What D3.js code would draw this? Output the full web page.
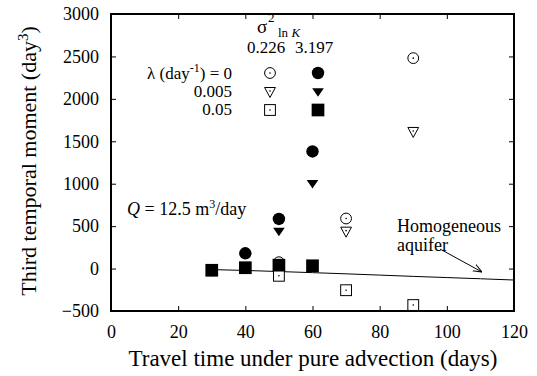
<!DOCTYPE html>
<html><head><meta charset="utf-8">
<script src="https://cdn.jsdelivr.net/npm/d3@7"></script>
<style>body{margin:0;background:#fff}svg{display:block}</style>
</head><body>
<svg id="c" width="537" height="376" font-family="Liberation Serif, DejaVu Serif, serif"></svg>
<script>
// ---- data ----
const xTicks = [0,20,40,60,80,100,120];
const yTicks = [-500,0,500,1000,1500,2000,2500,3000];
// lambda = 0, sigma2 = 0.226 (open circles)
const openCircle = [[50,75],[70,590],[90,2480]];
// lambda = 0, sigma2 = 3.197 (filled circles)
const filledCircle = [[40,180],[50,585],[60,1380]];
// lambda = 0.005, sigma2 = 0.226 (open triangles)
const openTriangle = [[70,435],[90,1610]];
// lambda = 0.005, sigma2 = 3.197 (filled triangles)
const filledTriangle = [[30,-40],[50,435],[60,1000]];
// lambda = 0.05, sigma2 = 0.226 (open squares)
const openSquare = [[50,-85],[70,-255],[90,-430]];
// lambda = 0.05, sigma2 = 3.197 (filled squares)
const filledSquare = [[30,-20],[40,10],[50,40],[60,33]];
// homogeneous aquifer curve
const homX = [30,40,50,60,70,80,90,100,110,120];
const homY = [-12,-22,-35,-48,-62,-77,-92,-106,-120,-135];
const legendLambda = ["0","0.005","0.05"];
const legendSigma = ["0.226","3.197"];

const FONT = "Liberation Serif, DejaVu Serif, serif";
const svg = d3.select("#c");
const L=111,R=514,T=14,B=311;
const x = d3.scaleLinear().domain([0,120]).range([L,R]);
const y = d3.scaleLinear().domain([-500,3000]).range([B,T]);

// axes (ticks inward)
const tl=5;
svg.append("g").attr("transform",`translate(0,${B})`).call(d3.axisBottom(x).tickValues(xTicks).tickSize(-tl).tickPadding(14).tickFormat(d3.format("d")))
  .call(g=>{g.select(".domain").remove();g.selectAll("text").attr("font-size",18).attr("dy","0.71em");});
svg.append("g").attr("transform",`translate(0,${T})`).call(d3.axisTop(x).tickValues(xTicks).tickSize(-tl).tickFormat(""))
  .call(g=>g.select(".domain").remove());
svg.append("g").attr("transform",`translate(${L},0)`).call(d3.axisLeft(y).tickValues(yTicks).tickSize(-tl).tickPadding(12).tickFormat(d3.format("d")))
  .call(g=>{g.select(".domain").remove();g.selectAll("text").attr("font-size",18);});
svg.append("g").attr("transform",`translate(${R},0)`).call(d3.axisRight(y).tickValues(yTicks).tickSize(-tl).tickFormat(""))
  .call(g=>g.select(".domain").remove());
svg.selectAll("g").attr("font-family",FONT);
svg.selectAll(".tick line").attr("stroke","#000").attr("stroke-width",1);
svg.selectAll(".tick text").attr("fill","#000");
svg.append("rect").attr("x",L).attr("y",T).attr("width",R-L).attr("height",B-T)
  .attr("fill","none").attr("stroke","#000").attr("stroke-width",2);

// homogeneous line
svg.append("path").datum(homX.map((v,i)=>[v,homY[i]]))
  .attr("d",d3.line().x(d=>x(d[0])).y(d=>y(d[1])))
  .attr("fill","none").attr("stroke","#000").attr("stroke-width",1);

// marker drawers
function circ(g,cx,cy,filled){
  g.append("circle").attr("cx",cx).attr("cy",cy).attr("r",filled?6.2:5.4)
   .attr("fill",filled?"#000":"#fff").attr("stroke","#000").attr("stroke-width",filled?0:1);
  if(!filled) g.append("circle").attr("cx",cx).attr("cy",cy).attr("r",0.8).attr("fill","#000");
}
function tri(g,cx,cy,filled){
  const w=filled?5.8:5.4,h=filled?8.5:10;
  g.append("path").attr("d",`M${cx-w},${cy-h*0.45}L${cx+w},${cy-h*0.45}L${cx},${cy+h*0.55}Z`)
   .attr("fill",filled?"#000":"#fff").attr("stroke","#000").attr("stroke-width",filled?0:1);
  if(!filled) g.append("circle").attr("cx",cx).attr("cy",cy-1).attr("r",0.8).attr("fill","#000");
}
function sq(g,cx,cy,filled){
  const s=filled?12.7:10.8;
  g.append("rect").attr("x",cx-s/2).attr("y",cy-s/2).attr("width",s).attr("height",s)
   .attr("fill",filled?"#000":"#fff").attr("stroke","#000").attr("stroke-width",filled?0:1);
  if(!filled) g.append("circle").attr("cx",cx).attr("cy",cy).attr("r",0.8).attr("fill","#000");
}
const gm = svg.append("g");
openCircle.forEach(d=>circ(gm,x(d[0]),y(d[1]),false));
openTriangle.forEach(d=>tri(gm,x(d[0]),y(d[1]),false));
openSquare.forEach(d=>sq(gm,x(d[0]),y(d[1]),false));
filledCircle.forEach(d=>circ(gm,x(d[0]),y(d[1]),true));
filledTriangle.forEach(d=>tri(gm,x(d[0]),y(d[1]),true));
filledSquare.forEach(d=>sq(gm,x(d[0]),y(d[1]),true));

// legend
const lg = svg.append("g").attr("font-family",FONT);
const colX=[270,318], rowY=[73,92,110];
const sig = lg.append("text").attr("x",257).attr("y",33).attr("font-size",19);
sig.append("tspan").text("σ");
sig.append("tspan").attr("x",268).attr("y",22).attr("font-size",13).text("2");
sig.append("tspan").attr("x",278).attr("y",37).attr("font-size",13).text("ln ");
sig.append("tspan").attr("font-size",13).attr("font-style","italic").text("K");
const sigX=[266,314];
legendSigma.forEach((s,i)=>lg.append("text").attr("x",sigX[i]).attr("y",53).attr("text-anchor","middle").attr("font-size",17).text(s));
const l0 = lg.append("text").attr("x",232).attr("y",rowY[0]+5.5).attr("text-anchor","end").attr("font-size",17);
l0.append("tspan").text("λ (day");
l0.append("tspan").attr("font-size",12).attr("dy",-7).text("-1");
l0.append("tspan").attr("dy",7).text(") = "+legendLambda[0]);
legendLambda.slice(1).forEach((s,i)=>lg.append("text").attr("x",232).attr("y",rowY[i+1]+5).attr("text-anchor","end").attr("font-size",17).text(s));
circ(lg,colX[0],rowY[0],false); circ(lg,colX[1],rowY[0],true);
tri(lg,colX[0],rowY[1],false); tri(lg,colX[1],rowY[1],true);
sq(lg,colX[0],rowY[2],false); sq(lg,colX[1],rowY[2],true);

// annotations
const ga = svg.append("g").attr("font-family",FONT);
const q = ga.append("text").attr("x",127).attr("y",215).attr("font-size",18);
q.append("tspan").attr("font-style","italic").text("Q");
q.append("tspan").text(" = 12.5 m");
q.append("tspan").attr("font-size",12).attr("dy",-7).text("3");
q.append("tspan").attr("dy",7).text("/day");
ga.append("text").attr("x",397).attr("y",232).attr("font-size",18).text("Homogeneous");
ga.append("text").attr("x",397).attr("y",251).attr("font-size",18).text("aquifer");
svg.append("defs").append("marker").attr("id","ah").attr("viewBox","0 0 10 10").attr("refX",10).attr("refY",5)
  .attr("markerWidth",9).attr("markerHeight",9).attr("orient","auto").attr("markerUnits","userSpaceOnUse")
  .append("path").attr("d","M0,1L10,5L0,9").attr("fill","none").attr("stroke","#000").attr("stroke-width",1.2);
svg.append("line").attr("x1",440).attr("y1",249).attr("x2",482).attr("y2",272).attr("stroke","#000").attr("stroke-width",1).attr("marker-end","url(#ah)");

// axis titles
ga.append("text").attr("x",313).attr("y",366).attr("text-anchor","middle").attr("font-size",23).text("Travel time under pure advection (days)");
const yt = ga.append("text").attr("transform",`translate(36,161) rotate(-90)`).attr("text-anchor","middle").attr("font-size",22);
yt.append("tspan").text("Third temporal moment (day");
yt.append("tspan").attr("font-size",15).attr("dy",-8).text("3");
yt.append("tspan").attr("dy",8).text(")");
</script>
</body></html>
